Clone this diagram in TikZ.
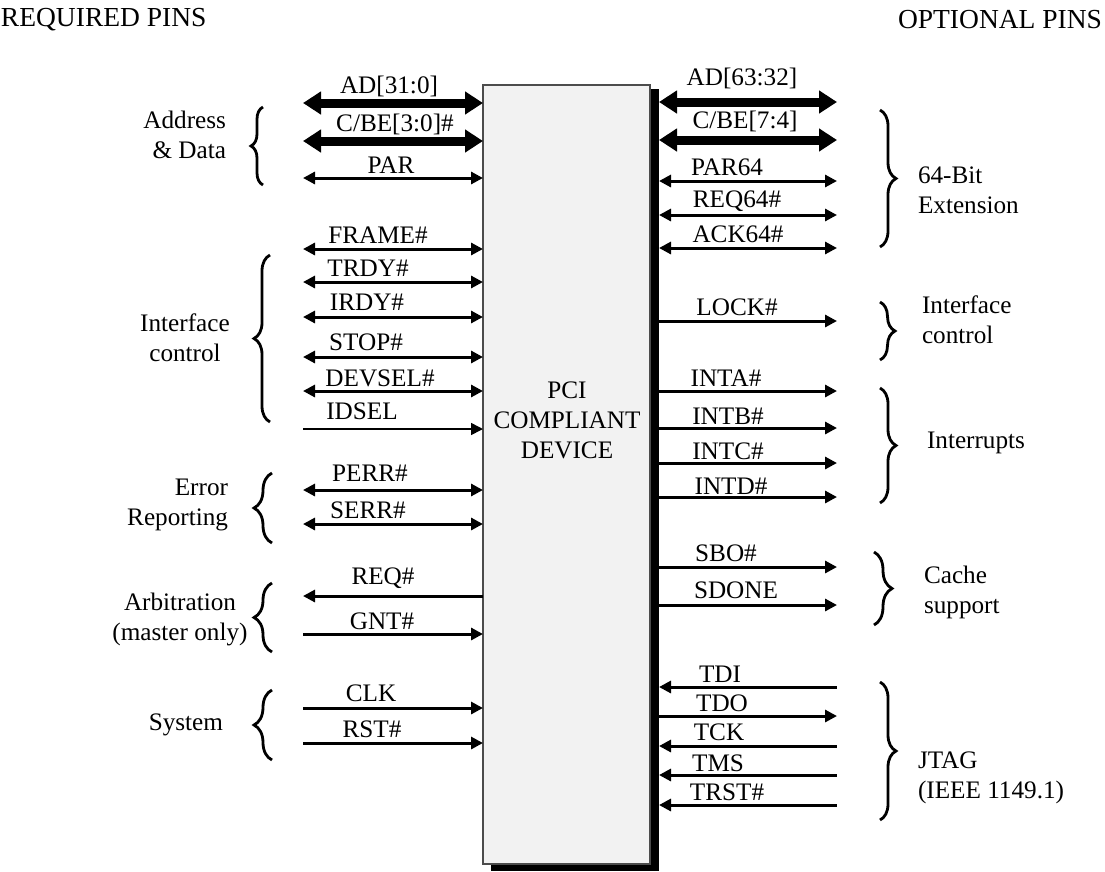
\documentclass[tikz,border=0pt]{standalone}
\usepackage{fontspec}
\setmainfont{Liberation Serif}
\usetikzlibrary{arrows.meta,decorations.pathreplacing}
\begin{document}
\begin{tikzpicture}[x=1pt,y=-1pt,
  every node/.style={font=\fontsize{25.2}{30}\selectfont, inner sep=0pt, outer sep=0pt},
  pinlbl/.style={anchor=base},
  head/.style={font=\fontsize{27.5}{32}\selectfont},
  grp/.style={align=#1},
  busarrow/.style={line width=9pt, {Triangle[length=18pt,width=22pt]}-{Triangle[length=18pt,width=22pt]}},
  bidir/.style={line width=3pt, {Triangle[length=12pt,width=12pt]}-{Triangle[length=12pt,width=12pt]}},
  headr/.style={line width=3pt, -{Triangle[length=12pt,width=12pt]}},
  headl/.style={line width=3pt, {Triangle[length=12pt,width=12pt]}-},
  thinr/.style={line width=1.6pt, -{Triangle[length=12pt,width=12pt]}},
  brc/.style={decorate, decoration={brace, amplitude=#1}, line width=2.8pt}
]
\useasboundingbox (0,0) rectangle (1105,871);

% headers
\node[head, anchor=west] (hreq) at (1,20) {REQUIRED PINS};
\node[head, anchor=east] (hopt) at (1102,20) {OPTIONAL PINS};

% device box with shadow
\fill[black] (491,89) rectangle (659,871);
\node[draw=gray!60!black, fill=gray!10, line width=1.5pt, minimum width=167pt, minimum height=779pt, anchor=north west] (box) at (483,85) {};
\node[align=center] (devtxt) at (567,420) {PCI\\COMPLIANT\\DEVICE};

% left pins: y / label x / label baseline / text / style
\foreach \y/\lx/\ly/\t/\s [count=\i] in {
  103/389/93/{AD[31:0]}/busarrow,
  141/395/131/{C/BE[3:0]\#}/busarrow,
  178/391/173/PAR/bidir,
  249/378/243/FRAME\#/bidir,
  282/368/276/TRDY\#/bidir,
  317/367/310/IRDY\#/bidir,
  357/366/350/STOP\#/bidir,
  391/380/386/DEVSEL\#/bidir,
  429/362/419/IDSEL/thinr,
  490/370/481/PERR\#/bidir,
  524/368/518/SERR\#/bidir,
  596/383/584/REQ\#/headl,
  634/382/629/GNT\#/headr,
  708/371/701/CLK/headr,
  743/372/737/RST\#/headr}{
  \coordinate (lp\i) at (303,\y);
  \coordinate (lb\i) at (483,\y);
  \draw[\s] (lp\i) -- (lb\i);
  \node[pinlbl] (ll\i) at (\lx,\ly) {\t};
}

% right pins
\foreach \y/\lx/\ly/\t/\s [count=\i] in {
  102/742/85/{AD[63:32]}/busarrow,
  140/745/128/{C/BE[7:4]}/busarrow,
  181/727/175/PAR64/bidir,
  215/737/207/REQ64\#/bidir,
  248/738/242/ACK64\#/bidir,
  321/737/315/LOCK\#/headr,
  391/726/386/INTA\#/headr,
  428/728/424/INTB\#/headr,
  463/728/459/INTC\#/headr,
  497/731/494/INTD\#/headr,
  567/726/561/SBO\#/headr,
  605/736/598/SDONE/headr,
  687/720/682/TDI/headl,
  716/722/711/TDO/headr,
  746/719/740/TCK/headl,
  775/718/771/TMS/headl,
  805/727/800/TRST\#/headl}{
  \coordinate (rb\i) at (659,\y);
  \coordinate (rp\i) at (837,\y);
  \draw[\s] (rb\i) -- (rp\i);
  \node[pinlbl] (rl\i) at (\lx,\ly) {\t};
}

% left braces and group labels
\draw[brc=12pt] (263,185) -- (263,107);
\node[grp=right, anchor=east] (gad) at (226,135) {Address\\\& Data};
\draw[brc=16pt] (270,422) -- (270,255);
\node[grp=center] (gic) at (185,338) {Interface\\control};
\draw[brc=18pt] (272,543) -- (272,473);
\node[grp=right, anchor=east] (ger) at (228,505) {Error\\Reporting};
\draw[brc=18pt] (272,652) -- (272,583);
\node[grp=center] (gar) at (180,619) {Arbitration\\(master only)};
\draw[brc=18pt] (272,760) -- (272,690);
\node[anchor=east] (gsy) at (223,725) {System};

% right braces and group labels
\draw[brc=16pt] (880,110) -- (880,247);
\node[grp=left, anchor=west] (g64) at (918,190) {64-Bit\\Extension};
\draw[brc=15pt] (880,302) -- (880,360);
\node[grp=left, anchor=west] (gic2) at (922,320) {Interface\\control};
\draw[brc=16pt] (880,388) -- (880,503);
\node[anchor=west] (gint) at (927,443) {Interrupts};
\draw[brc=18pt] (874,552) -- (874,625);
\node[grp=left, anchor=west] (gca) at (924,592) {Cache\\support};
\draw[brc=16pt] (880,682) -- (880,820);
\node[grp=left, anchor=west] (gjt) at (918,778) {JTAG\\(IEEE 1149.1)};
\end{tikzpicture}
\end{document}
